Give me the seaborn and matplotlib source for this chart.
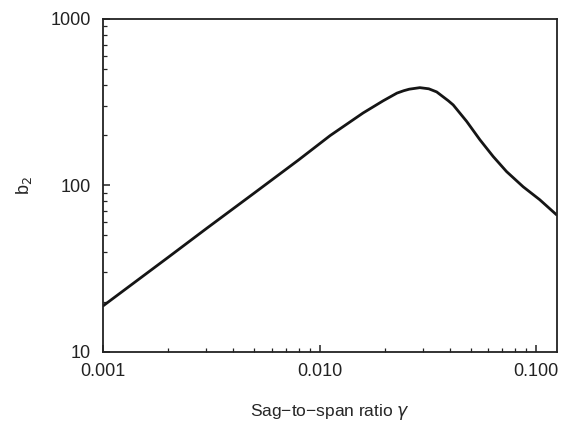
import numpy as np
import pandas as pd
import seaborn as sns
import matplotlib.pyplot as plt
from matplotlib.ticker import FixedLocator, FixedFormatter, NullFormatter

# values
sag_ratio = [0.001, 0.002, 0.003, 0.005, 0.008, 0.0112, 0.0159, 0.0197, 0.0228,
             0.0245, 0.026, 0.0291, 0.032, 0.0348, 0.0394, 0.0415, 0.0479, 0.0551,
             0.0635, 0.0732, 0.0874, 0.1042, 0.1247]
b2 = [18.9, 37, 55, 90, 142, 199, 272, 322, 358,
      370, 378, 386, 380, 364, 322, 304, 242, 188,
      149, 121, 98, 82, 66.5]

x_ticks = [0.001, 0.01, 0.1]
x_tick_labels = ["0.001", "0.010", "0.100"]
y_ticks = [10, 100, 1000]
y_tick_labels = ["10", "100", "1000"]

df = pd.DataFrame({"gamma": sag_ratio, "b2": b2})

sns.set_style("ticks")
plt.rcParams['font.family'] = ['Liberation Sans', 'DejaVu Sans']

fig = plt.figure(figsize=(5.67, 4.28), dpi=100)
ax = fig.add_axes([0.182, 0.178, 0.800, 0.778])

sns.lineplot(data=df, x="gamma", y="b2", ax=ax, color="#151515", linewidth=2.0)

ax.set_xscale("log")
ax.set_yscale("log")
ax.set_xlim(0.001, 0.125)
ax.set_ylim(10, 1000)

ax.xaxis.set_major_locator(FixedLocator(x_ticks))
ax.xaxis.set_major_formatter(FixedFormatter(x_tick_labels))
ax.xaxis.set_minor_formatter(NullFormatter())
ax.yaxis.set_major_locator(FixedLocator(y_ticks))
ax.yaxis.set_major_formatter(FixedFormatter(y_tick_labels))
ax.yaxis.set_minor_formatter(NullFormatter())

ax.tick_params(which="both", direction="in", top=False, right=False, colors="#222222")
ax.tick_params(which="major", length=5, width=1.1, labelsize=13, pad=8)
ax.tick_params(axis="y", which="major", pad=9)
ax.tick_params(which="minor", length=3, width=0.9)

for s in ax.spines.values():
    s.set_visible(True)
    s.set_linewidth(1.3)
    s.set_color("#222222")

ax.set_xlabel("Sag\u2212to\u2212span ratio $\\gamma$", fontsize=12.5, labelpad=16)
ax.set_ylabel("b$_2$", fontsize=13, labelpad=12)

fig.savefig("out.png", dpi=100)
